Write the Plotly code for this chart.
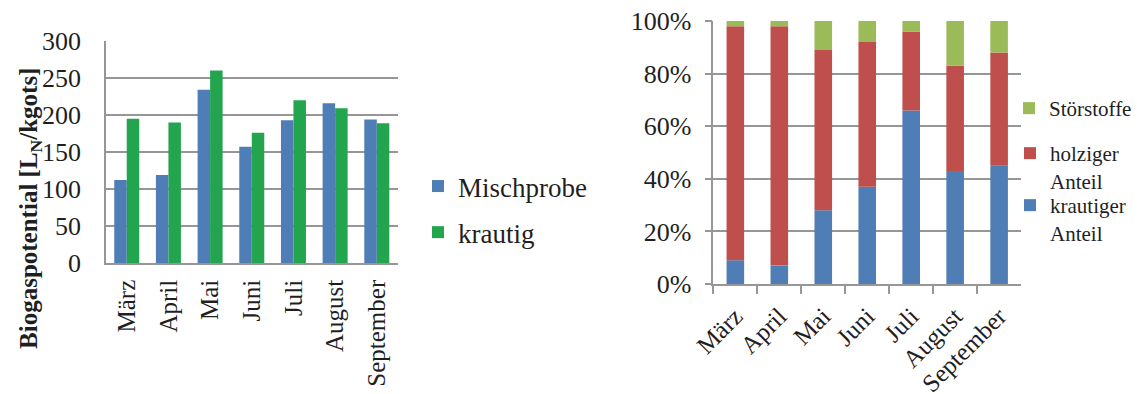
import plotly.graph_objects as go

# ---- data ----
months = ["März", "April", "Mai", "Juni", "Juli", "August", "September"]

# Biogaspotential [L_N/kg oTS]
mischprobe = [112, 119, 234, 157, 193, 216, 194]
krautig = [195, 190, 260, 176, 220, 209, 189]

# Composition shares [%]
krautiger_anteil = [9, 7, 28, 37, 66, 43, 45]
holziger_anteil = [89, 91, 61, 55, 30, 40, 43]
stoerstoffe = [2, 2, 11, 8, 4, 17, 12]

y_ticks_left = [0, 50, 100, 150, 200, 250, 300]
y_ticks_right = [0, 20, 40, 60, 80, 100]
y_ticktext_right = [f"{v}%" for v in y_ticks_right]

# ---- page geometry (pixels) ----
W, H = 1137, 394
FONT = "Liberation Serif"
TXT = "#1f1f1f"
GRID = "#969696"


def fx(px):
    return px / W


def fy(py):
    return 1 - py / H


# stacking bases for the composition chart
base_holz = list(krautiger_anteil)
base_stoer = [a + b for a, b in zip(krautiger_anteil, holziger_anteil)]

fig = go.Figure()

# left: grouped bars
fig.add_trace(go.Bar(
    x=months, y=mischprobe, name="Mischprobe",
    marker=dict(color="#4F7DB5", line=dict(width=0)),
    offset=-0.3, width=0.3, xaxis="x", yaxis="y",
    legend="legend", legendgroup="a",
))
fig.add_trace(go.Bar(
    x=months, y=krautig, name="krautig",
    marker=dict(color="#23A54F", line=dict(width=0)),
    offset=0.0, width=0.3, xaxis="x", yaxis="y",
    legend="legend", legendgroup="b",
))

# right: 100 % stacked bars, one legend box per entry
fig.add_trace(go.Bar(
    x=months, y=krautiger_anteil, name="krautiger<br>Anteil",
    marker=dict(color="#4F7DB5", line=dict(width=0)),
    offset=-0.2, width=0.4, xaxis="x2", yaxis="y2",
    legend="legend4",
))
fig.add_trace(go.Bar(
    x=months, y=holziger_anteil, base=base_holz, name="holziger<br>Anteil",
    marker=dict(color="#BE4F4C", line=dict(width=0)),
    offset=-0.2, width=0.4, xaxis="x2", yaxis="y2",
    legend="legend3",
))
fig.add_trace(go.Bar(
    x=months, y=stoerstoffe, base=base_stoer, name="Störstoffe",
    marker=dict(color="#9BBB59", line=dict(width=0)),
    offset=-0.2, width=0.4, xaxis="x2", yaxis="y2",
    legend="legend2",
))

month_font = dict(family=FONT, size=25, color=TXT)
value_font = dict(family=FONT, size=26, color=TXT)


def side_legend(top_px):
    return dict(
        x=fx(1010), y=fy(top_px), xanchor="left", yanchor="top",
        bgcolor="rgba(0,0,0,0)", font=dict(family=FONT, size=21, color=TXT),
        itemwidth=30, valign="top",
    )


fig.update_layout(
    width=W, height=H,
    margin=dict(l=0, r=0, t=0, b=0),
    paper_bgcolor="white", plot_bgcolor="white",
    barmode="overlay",
    font=dict(family=FONT, size=25, color=TXT),
    xaxis=dict(
        domain=[fx(106), fx(398)], anchor="y", automargin=False,
        showline=True, linecolor=GRID, linewidth=1.5,
        ticks="", tickangle=-90, ticklabelstandoff=5,
        tickfont=month_font,
        showgrid=False, zeroline=False,
    ),
    yaxis=dict(
        domain=[fy(263), fy(41)], anchor="x", automargin=False,
        range=[0, 300], tickvals=y_ticks_left,
        showline=True, linecolor=GRID, linewidth=1.5,
        showgrid=True, gridcolor=GRID, gridwidth=1.5,
        ticks="", ticklabelstandoff=18, zeroline=False,
        tickfont=value_font,
    ),
    xaxis2=dict(
        domain=[fx(714), fx(1022)], anchor="y2", automargin=False,
        showline=True, linecolor=GRID, linewidth=1.5,
        ticks="outside", ticklen=8, tickcolor=GRID, tickwidth=1.5,
        tickson="boundaries", tickangle=-45, ticklabelstandoff=6,
        tickfont=month_font,
        showgrid=False, zeroline=False,
    ),
    yaxis2=dict(
        domain=[fy(284), fy(21)], anchor="x2", automargin=False,
        range=[0, 100], tickmode="array",
        tickvals=y_ticks_right, ticktext=y_ticktext_right,
        showline=True, linecolor=GRID, linewidth=1.5,
        showgrid=True, gridcolor=GRID, gridwidth=1.5,
        ticks="outside", ticklen=7, tickcolor=GRID, tickwidth=1.5,
        ticklabelstandoff=8, zeroline=False,
        tickfont=value_font,
    ),
    legend=dict(
        x=fx(418), y=fy(162), xanchor="left", yanchor="top",
        bgcolor="rgba(0,0,0,0)", font=dict(family=FONT, size=27, color=TXT),
        traceorder="grouped", tracegroupgap=8, itemwidth=30,
    ),
    legend2=side_legend(88),
    legend3=side_legend(133),
    legend4=side_legend(185),
    annotations=[dict(
        text="<b>Biogaspotential [L<sub>N</sub>/kgots]</b>",
        x=fx(30), y=fy(208), xref="paper", yref="paper",
        xanchor="center", yanchor="middle",
        textangle=-90, showarrow=False,
        font=dict(family=FONT, size=25, color=TXT),
    )],
)

fig.write_html("out.html")
